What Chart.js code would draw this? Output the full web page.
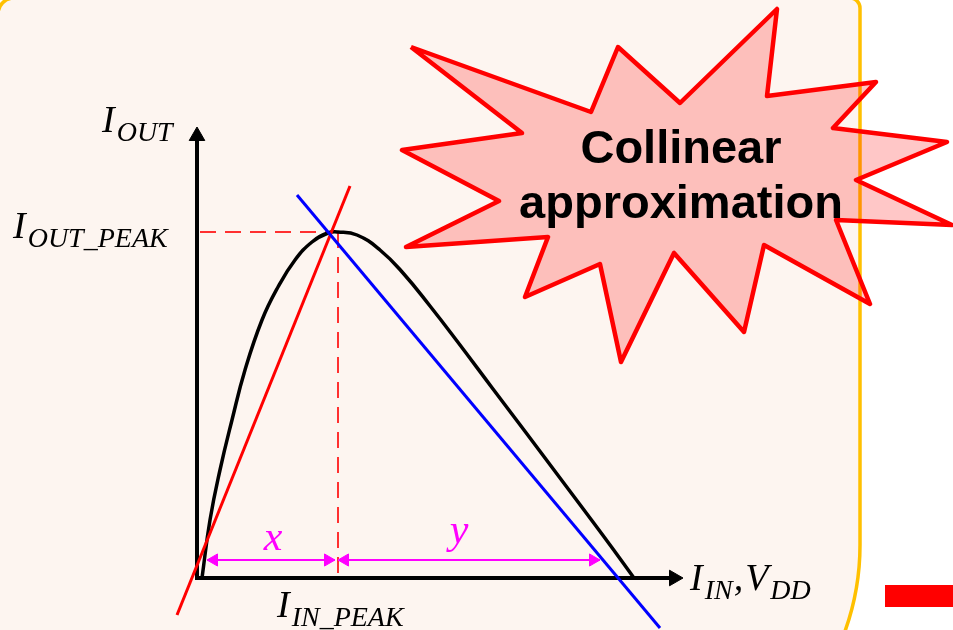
<!DOCTYPE html>
<html>
<head>
<meta charset="utf-8">
<script src="https://cdn.jsdelivr.net/npm/chart.js@4.4.0/dist/chart.umd.min.js"></script>
<style>
  html,body{margin:0;padding:0;background:#fff;overflow:hidden}
  #wrap{width:953px;height:630px}
</style>
</head>
<body>
<div id="wrap"><canvas id="c" width="953" height="630"></canvas></div>
<script>
// unidades arbitrarias, origen en la esquina de los ejes (I_IN=0, I_OUT=0)
const curveX = [5, 13, 23, 35, 48, 65, 81, 98, 115, 131, 141, 160, 183, 206, 233, 260, 296, 330, 363, 396, 416, 437];
const curveY = [0, 58, 108, 158, 208, 258, 291, 318, 336, 345, 346, 343, 328, 305, 272, 237, 189, 144, 100, 56, 29, 0];

// recta roja (subida) y recta azul (bajada)
const riseX = [-20, 153];
const riseY = [-37, 392];
const fallX = [100, 463];
const fallY = [383, -50];

// pico: líneas de referencia punteadas
const peakX = 141, peakY = 346;
const dashHX = [3, peakX],     dashHY = [peakY, peakY];
const dashVX = [peakX, peakX], dashVY = [peakY, 0];

// ejes (L) y centros de las puntas de flecha
const axisX = [0, 0, 475];
const axisY = [442, 0, 0];
const axisHeadX = [0, 477];
const axisHeadY = [442, 0];

// cotas x / y (magenta)
const spanXX = [10, 138], spanYX = [141, 403], spanLevel = 18;
const spanHeadX = [17, 131, 148, 396];

// estrella "Collinear approximation"
const starX = [214, 394, 421, 483, 580, 570, 679, 636, 750, 659, 755, 639, 673, 567, 547, 477, 424, 403, 328, 351, 209, 302, 205, 325, 214];
const starY = [531, 466, 531, 475, 569, 482, 496, 450, 436, 398, 353, 358, 274, 333, 246, 325, 216, 314, 281, 341, 331, 377, 428, 445, 531];
const starText = ['Collinear', 'approximation'];
const starTextAt = [[484, 415], [484, 360]];

// etiquetas matemáticas: [texto, subíndice?]
const mathLabels = [
  [['I', 0], ['OUT', 1]],
  [['I', 0], ['OUT_PEAK', 1]],
  [['I', 0], ['IN_PEAK', 1]],
  [['I', 0], ['IN', 1], [',', 0], ['V', 0], ['DD', 1]],
];
const labelAt = [[-95, 446], [-184, 340], [80, -39], [493, -12]];
const spanLabels = ['x', 'y'];
const spanLabelAt = [[76, 28], [262, 35]];

const pts = (xs, ys) => xs.map((v, i) => ({x: v, y: ys[i]}));

// fondo del panel (decoración, en píxeles)
function panelPath(ctx, L, T, R, B, rtl, rtr, rbr){
  ctx.beginPath();
  ctx.moveTo(L + rtl, T);
  ctx.lineTo(R - rtr, T); ctx.arcTo(R, T, R, T + rtr, rtr);
  ctx.lineTo(R, B - rbr); ctx.arcTo(R, B, R - rbr, B, rbr);
  ctx.lineTo(L, B); ctx.lineTo(L, T + rtl); ctx.arcTo(L, T, L + rtl, T, rtl);
  ctx.closePath();
}
const panelPlugin = {
  id: 'panel',
  beforeDraw(chart){
    const ctx = chart.ctx;
    ctx.save();
    ctx.fillStyle = '#ffffff';
    ctx.fillRect(0, 0, chart.width, chart.height);
    panelPath(ctx, -2, -2, 860, 800, 16, 10, 255);
    ctx.fillStyle = '#fdf5f0';
    ctx.fill();
    ctx.lineWidth = 3.5;
    ctx.strokeStyle = '#ffc000';
    ctx.stroke();
    ctx.fillStyle = '#ff0000';
    ctx.fillRect(885, 585, 68, 22);
    ctx.restore();
  }
};

const textPlugin = {
  id: 'texts',
  afterDatasetsDraw(chart){
    const {ctx, scales: {x, y}} = chart;
    ctx.save();
    ctx.textBaseline = 'alphabetic';
    ctx.fillStyle = '#000';
    ctx.textAlign = 'center';
    ctx.font = 'bold 47px "Liberation Sans", Arial, sans-serif';
    starText.forEach((t, i) => ctx.fillText(t, x.getPixelForValue(starTextAt[i][0]), y.getPixelForValue(starTextAt[i][1])));

    ctx.textAlign = 'left';
    mathLabels.forEach((lab, i) => {
      let px = x.getPixelForValue(labelAt[i][0]);
      const py = y.getPixelForValue(labelAt[i][1]);
      lab.forEach(([t, sub]) => {
        ctx.font = sub ? 'italic 28px "Liberation Serif", serif' : 'italic 38px "Liberation Serif", serif';
        ctx.fillText(t, px, py + (sub ? 9 : 0));
        px += ctx.measureText(t).width + (sub ? 1 : 2);
      });
    });

    ctx.textAlign = 'center';
    ctx.fillStyle = '#ff00ff';
    ctx.font = 'italic 42px "Liberation Serif", serif';
    spanLabels.forEach((t, i) => ctx.fillText(t, x.getPixelForValue(spanLabelAt[i][0]), y.getPixelForValue(spanLabelAt[i][1])));
    ctx.restore();
  }
};

const line = (data, color, width, extra) => Object.assign({
  data, showLine: true, borderColor: color, backgroundColor: color,
  borderWidth: width, pointRadius: 0, fill: false, tension: 0
}, extra || {});

new Chart(document.getElementById('c').getContext('2d'), {
  type: 'scatter',
  data: {datasets: [
    line(pts(starX, starY), '#ff0000', 4.5, {backgroundColor: 'rgba(255,0,0,0.22)', fill: 'shape', borderJoinStyle: 'round'}),
    line(pts(spanXX, [spanLevel, spanLevel]), '#ff00ff', 2),
    line(pts(spanYX, [spanLevel, spanLevel]), '#ff00ff', 2),
    {data: spanHeadX.map(v => ({x: v, y: spanLevel})), showLine: false, pointStyle: 'triangle',
     pointRadius: 7, pointRotation: [-90, 90, -90, 90], backgroundColor: '#ff00ff', borderColor: '#ff00ff', borderWidth: 1},
    line(pts(fallX, fallY), '#0000ff', 3),
    line(pts(riseX, riseY), '#ff0000', 3),
    line(pts(curveX, curveY), '#000000', 3.5, {tension: 0.45}),
    line(pts(dashHX, dashHY), '#ff3030', 2, {borderDash: [16, 9]}),
    line(pts(dashVX, dashVY), '#ff3030', 2, {borderDash: [16, 9]}),
    line(pts(axisX, axisY), '#000000', 4, {borderJoinStyle: 'miter', borderCapStyle: 'square'}),
    {data: pts(axisHeadX, axisHeadY), showLine: false, pointStyle: 'triangle',
     pointRadius: 9, pointRotation: [0, 90], backgroundColor: '#000', borderColor: '#000', borderWidth: 1},
  ]},
  options: {
    responsive: false,
    devicePixelRatio: 1,
    animation: false,
    events: [],
    layout: {padding: 0, autoPadding: false},
    plugins: {legend: {display: false}, tooltip: {enabled: false}},
    scales: {
      x: {type: 'linear', min: -197, max: 756, display: false},
      y: {type: 'linear', min: -52, max: 578, display: false}
    }
  },
  plugins: [panelPlugin, textPlugin]
});
</script>
</body>
</html>
